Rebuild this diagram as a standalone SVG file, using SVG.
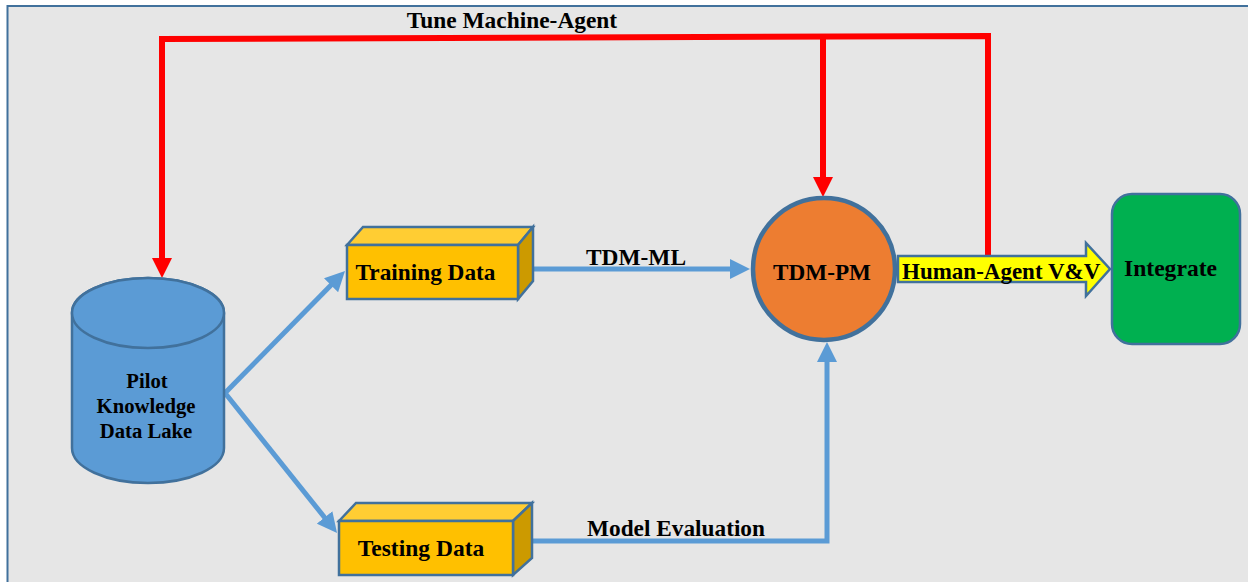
<svg xmlns="http://www.w3.org/2000/svg" width="1248" height="582" viewBox="0 0 1248 582">
<defs>
<style>
.t{font-family:"Liberation Serif","Times New Roman",serif;font-weight:bold;fill:#000}
.blue{fill:none;stroke:#5b9bd5;stroke-width:5}
.red{fill:none;stroke:#ff0000;stroke-width:6;stroke-linejoin:miter}
.ol{stroke:#41719c;stroke-width:2.5}
.front{fill:#ffc000;stroke:#41719c;stroke-width:2.5}
.top{fill:#ffcd33;stroke:#41719c;stroke-width:2.5}
.side{fill:#cc9a00;stroke:#41719c;stroke-width:2.5}
</style>
<marker id="ab" viewBox="0 0 20 20" refX="10" refY="10" markerWidth="20" markerHeight="20" markerUnits="userSpaceOnUse" orient="auto"><path d="M0,0 L20,10 L0,20 z" fill="#5b9bd5"/></marker>
<marker id="ar" viewBox="0 0 20 20" refX="10" refY="10" markerWidth="20" markerHeight="20" markerUnits="userSpaceOnUse" orient="auto"><path d="M0,0 L20,10 L0,20 z" fill="#ff0000"/></marker>
</defs>
<rect x="0" y="0" width="1248" height="582" fill="#ffffff"/>
<rect x="7.5" y="6" width="1250" height="590" fill="#e6e6e6" stroke="#41719c" stroke-width="2"/>

<g id="connectors">
<path class="blue" d="M225,393 L338,278.1" marker-end="url(#ab)"/>
<path class="blue" d="M225,393 L330.8,525.2" marker-end="url(#ab)"/>
<path class="blue" d="M525,269 L740,269" marker-end="url(#ab)"/>
<path class="blue" d="M522,541 L827,541 L827,352" marker-end="url(#ab)"/>
<path class="red" d="M988,256 L988,36 L162,39 L162,268" marker-end="url(#ar)"/>
<path class="red" d="M823,37 L823,187" marker-end="url(#ar)"/>
<text class="t" x="512" y="28" font-size="23.4" text-anchor="middle">Tune Machine-Agent</text>
<text class="t" x="636" y="265" font-size="23.4" text-anchor="middle">TDM-ML</text>
<text class="t" x="676" y="536" font-size="23.3" text-anchor="middle">Model Evaluation</text>
</g>

<g id="datalake">
<path d="M72,313 L72,448 A76,35 0 0 0 224,448 L224,313 A76,35 0 0 0 72,313 z" fill="#5b9bd5" class="ol"/>
<ellipse cx="148" cy="313" rx="76" ry="35" fill="#5b9bd5" class="ol"/>
<text class="t" font-size="20.7" text-anchor="middle"><tspan x="147" y="388">Pilot</tspan><tspan x="146" y="413">Knowledge</tspan><tspan x="146" y="438">Data Lake</tspan></text>
</g>

<g id="training">
<polygon class="top" points="347,245 363,227 533,227 518,245"/>
<polygon class="side" points="518,245 533,227 533,281 518,299"/>
<rect class="front" x="347" y="245" width="171" height="54"/>
<text class="t" x="425.5" y="280" font-size="23.3" text-anchor="middle">Training Data</text>
</g>

<g id="testing">
<polygon class="top" points="339,521 356,503 532,503 513,521"/>
<polygon class="side" points="513,521 532,503 532,558 513,575"/>
<rect class="front" x="339" y="521" width="174" height="54"/>
<text class="t" x="421" y="556" font-size="23.5" text-anchor="middle">Testing Data</text>
</g>

<g id="tdmpm">
<circle cx="824" cy="269" r="71" fill="#ed7d31" stroke="#41719c" stroke-width="4.5"/>
<text class="t" x="822" y="280" font-size="23.2" text-anchor="middle">TDM-PM</text>
</g>

<g id="vv">
<polygon points="898,256 1086,256 1086,243 1110,269 1086,296 1086,282 898,282" fill="#ffff00" class="ol"/>
<text class="t" x="902" y="279" font-size="23">Human-Agent V&amp;V</text>
</g>

<g id="integrate">
<rect x="1112" y="194" width="128" height="150" rx="20" fill="#00b050" class="ol"/>
<text class="t" x="1170.5" y="276" font-size="23.6" text-anchor="middle">Integrate</text>
</g>
</svg>
